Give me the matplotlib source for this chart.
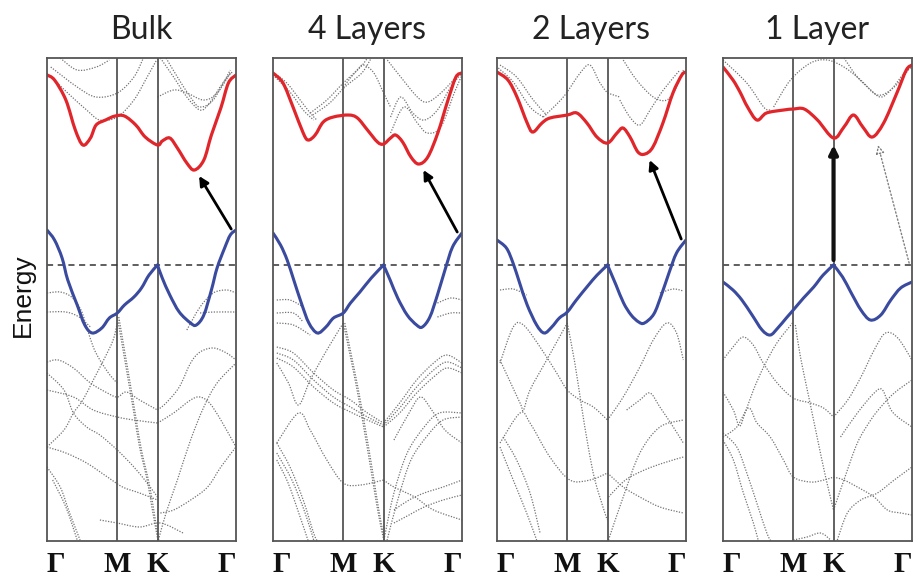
import matplotlib
matplotlib.use("Agg")
import matplotlib.pyplot as plt
from matplotlib.path import Path
from matplotlib.patches import PathPatch
from matplotlib.transforms import blended_transform_factory

# high-symmetry path, fractional distance along G-M-K-G
KPATH = [0.0, 0.372, 0.585, 1.0]
KLABELS = ["Γ", "M", "K", "Γ"]
TITLES = ["Bulk", "4 Layers", "2 Layers", "1 Layer"]
EMIN, EMAX = -2.76, 2.07

# ---- bulk -------------------------------------------------------------
BULK_CB = [(0.00, 1.90), (0.04, 1.85), (0.10, 1.65), (0.15, 1.35), (0.19, 1.20),
           (0.23, 1.27), (0.26, 1.40), (0.31, 1.45), (0.36, 1.49), (0.41, 1.49),
           (0.47, 1.40), (0.52, 1.28), (0.585, 1.20), (0.61, 1.24), (0.65, 1.27),
           (0.69, 1.17), (0.74, 1.02), (0.78, 0.95), (0.83, 1.05), (0.87, 1.30),
           (0.92, 1.57), (0.96, 1.82), (1.00, 1.90)]
BULK_VB = [(0.00, 0.35), (0.04, 0.25), (0.08, 0.07), (0.11, -0.15), (0.16, -0.40),
           (0.20, -0.60), (0.24, -0.68), (0.29, -0.63), (0.33, -0.53), (0.372, -0.48),
           (0.41, -0.40), (0.46, -0.32), (0.50, -0.23), (0.54, -0.10), (0.585, 0.00),
           (0.61, -0.13), (0.65, -0.30), (0.70, -0.47), (0.76, -0.58), (0.79, -0.60),
           (0.83, -0.50), (0.87, -0.25), (0.90, -0.03), (0.94, 0.17), (0.97, 0.30),
           (1.00, 0.35)]
BULK_OTHER = [
    [(0.00, 1.92), (0.11, 1.72), (0.21, 1.55), (0.28, 1.45), (0.372, 1.48), (0.46, 1.65), (0.53, 1.88), (0.58, 2.05)],
    [(0.02, 1.98), (0.16, 1.78), (0.26, 1.68), (0.372, 1.72), (0.46, 1.88), (0.51, 2.07)],
    [(0.07, 2.07), (0.16, 1.95), (0.26, 1.98), (0.33, 2.05)],
    [(0.60, 2.07), (0.67, 1.88), (0.74, 1.68), (0.81, 1.55), (0.86, 1.62), (0.93, 1.82), (0.98, 1.93)],
    [(0.63, 2.07), (0.70, 1.85), (0.77, 1.65), (0.81, 1.58), (0.88, 1.65), (0.97, 1.95)],
    [(0.585, 1.68), (0.67, 1.75), (0.74, 1.72), (0.83, 1.65), (0.90, 1.72), (0.97, 1.92)],
    [(0.00, -0.28), (0.07, -0.27), (0.13, -0.32), (0.18, -0.45), (0.21, -0.62), (0.245, -0.82), (0.28, -0.95), (0.333, -1.10), (0.372, -1.18)],
    [(0.74, -0.65), (0.81, -0.42), (0.88, -0.28), (0.95, -0.25), (1.00, -0.28)],
    [(0.00, -0.47), (0.10, -0.47), (0.17, -0.52), (0.23, -0.62)],
    [(0.81, -0.48), (0.88, -0.47), (1.00, -0.47)],
    [(0.00, -0.97), (0.06, -0.95), (0.14, -1.03), (0.23, -1.18), (0.32, -1.28), (0.372, -1.32), (0.42, -1.27), (0.49, -1.35),
     (0.585, -1.45), (0.63, -1.38), (0.70, -1.22), (0.76, -0.98), (0.81, -0.87), (0.88, -0.83), (0.95, -0.88), (1.00, -0.95)],
    [(0.00, -1.08), (0.09, -1.25), (0.14, -1.48), (0.21, -1.62), (0.28, -1.70), (0.372, -1.85), (0.46, -2.02), (0.53, -2.18), (0.585, -2.32)],
    [(0.00, -1.82), (0.09, -1.65), (0.14, -1.48), (0.19, -1.35), (0.245, -1.15), (0.30, -0.95), (0.35, -0.75), (0.372, -0.58)],
    [(0.372, -0.52), (0.40, -0.82), (0.43, -1.15), (0.46, -1.48), (0.49, -1.82), (0.53, -2.15), (0.555, -2.42), (0.58, -2.68), (0.59, -2.78)],
    [(0.38, -0.52), (0.41, -0.85), (0.44, -1.18), (0.47, -1.52), (0.50, -1.85), (0.54, -2.18), (0.565, -2.45), (0.59, -2.75)],
    [(0.59, -2.75), (0.63, -2.48), (0.69, -2.15), (0.76, -1.75), (0.83, -1.42), (0.90, -1.18), (1.00, -0.98)],
    [(0.585, -1.58), (0.67, -1.48), (0.76, -1.35), (0.81, -1.32), (0.86, -1.38), (0.92, -1.55), (1.00, -1.82)],
    [(0.00, -1.25), (0.14, -1.32), (0.245, -1.45), (0.372, -1.52), (0.46, -1.55), (0.585, -1.58)],
    [(0.00, -1.82), (0.10, -1.88), (0.21, -1.98), (0.32, -2.12), (0.40, -2.22), (0.49, -2.28), (0.585, -2.35)],
    [(0.00, -2.02), (0.07, -2.22), (0.12, -2.48), (0.175, -2.75)],
    [(0.03, -2.15), (0.10, -2.42), (0.16, -2.75)],
    [(0.60, -2.48), (0.67, -2.45), (0.76, -2.35), (0.85, -2.22), (0.92, -2.02), (1.00, -1.82)],
    [(0.28, -2.55), (0.372, -2.58), (0.49, -2.62), (0.60, -2.58), (0.72, -2.68)],
]

# ---- 4 layers ---------------------------------------------------------
L4_CB = [(0.00, 1.92), (0.053, 1.82), (0.106, 1.58), (0.16, 1.32), (0.186, 1.25),
         (0.223, 1.30), (0.266, 1.43), (0.319, 1.48), (0.40, 1.50), (0.447, 1.47),
         (0.50, 1.35), (0.553, 1.23), (0.585, 1.21), (0.622, 1.27), (0.649, 1.30),
         (0.686, 1.23), (0.73, 1.08), (0.771, 1.01), (0.819, 1.08), (0.872, 1.32),
         (0.926, 1.65), (0.968, 1.88), (1.00, 1.92)]
L4_VB = [(0.00, 0.32), (0.04, 0.20), (0.075, 0.05), (0.11, -0.15), (0.15, -0.38),
         (0.19, -0.58), (0.235, -0.68), (0.28, -0.62), (0.32, -0.53), (0.372, -0.48),
         (0.41, -0.38), (0.46, -0.27), (0.52, -0.13), (0.585, 0.00), (0.62, -0.15),
         (0.66, -0.33), (0.71, -0.50), (0.76, -0.60), (0.79, -0.62), (0.83, -0.52),
         (0.87, -0.30), (0.91, -0.05), (0.95, 0.18), (1.00, 0.32)]
L4_OTHER = [
    [(0.00, 1.93), (0.073, 1.82), (0.144, 1.65), (0.197, 1.52), (0.232, 1.45)],
    [(0.00, 1.90), (0.09, 1.73), (0.16, 1.55), (0.215, 1.45)],
    [(0.197, 1.52), (0.285, 1.65), (0.372, 1.82), (0.463, 1.98), (0.50, 2.07)],
    [(0.21, 1.50), (0.30, 1.62), (0.38, 1.78), (0.47, 1.92), (0.52, 2.07)],
    [(0.372, 1.78), (0.445, 1.95), (0.48, 2.00), (0.534, 1.92), (0.585, 1.72), (0.622, 1.58)],
    [(0.605, 2.05), (0.676, 1.88), (0.764, 1.68), (0.817, 1.63), (0.888, 1.72), (0.995, 1.93)],
    [(0.622, 1.32), (0.693, 1.58), (0.764, 1.42), (0.817, 1.32), (0.888, 1.38), (0.959, 1.72), (1.00, 1.90)],
    [(0.622, 1.48), (0.676, 1.68), (0.74, 1.52), (0.80, 1.45), (0.87, 1.55), (0.94, 1.78), (1.00, 1.92)],
    [(0.02, -0.35), (0.09, -0.35), (0.16, -0.42)],
    [(0.02, -0.48), (0.108, -0.48), (0.16, -0.57)],
    [(0.02, -0.58), (0.108, -0.60), (0.197, -0.70)],
    [(0.87, -0.38), (0.94, -0.33), (1.00, -0.35)],
    [(0.87, -0.52), (0.94, -0.48), (1.00, -0.48)],
    [(0.02, -0.82), (0.108, -0.88), (0.215, -1.08), (0.32, -1.25), (0.41, -1.35), (0.50, -1.48), (0.585, -1.58),
     (0.67, -1.38), (0.76, -1.15), (0.85, -0.98), (0.92, -0.90), (1.00, -0.98)],
    [(0.02, -0.88), (0.108, -0.95), (0.215, -1.15), (0.32, -1.32), (0.41, -1.42), (0.50, -1.52), (0.585, -1.60),
     (0.67, -1.43), (0.76, -1.22), (0.85, -1.05), (0.92, -0.97), (1.00, -1.03)],
    [(0.02, -0.93), (0.108, -1.02), (0.215, -1.22), (0.32, -1.38), (0.41, -1.47), (0.50, -1.55), (0.585, -1.62),
     (0.67, -1.48), (0.76, -1.28), (0.85, -1.12), (0.92, -1.03), (1.00, -1.08)],
    [(0.02, -0.98), (0.082, -1.18), (0.135, -1.40), (0.197, -1.15), (0.285, -0.85), (0.372, -0.58)],
    [(0.02, -1.78), (0.135, -1.48), (0.197, -1.65), (0.285, -1.95), (0.372, -2.18), (0.463, -2.20), (0.585, -2.15),
     (0.64, -2.22), (0.75, -2.32), (0.85, -2.45), (1.00, -2.55)],
    [(0.372, -0.58), (0.41, -0.92), (0.445, -1.25), (0.48, -1.62), (0.516, -2.02), (0.551, -2.42), (0.578, -2.68), (0.59, -2.78)],
    [(0.38, -0.58), (0.42, -0.95), (0.455, -1.28), (0.49, -1.65), (0.526, -2.05), (0.56, -2.45), (0.59, -2.75)],
    [(0.59, -2.72), (0.64, -2.28), (0.71, -1.88), (0.80, -1.62), (0.88, -1.48), (1.00, -1.48)],
    [(0.60, -2.78), (0.66, -2.35), (0.73, -1.95), (0.82, -1.70), (0.90, -1.55), (1.00, -1.52)],
    [(0.64, -1.75), (0.72, -1.48), (0.78, -1.32), (0.84, -1.45), (0.91, -1.65), (1.00, -1.78)],
    [(0.02, -1.78), (0.09, -2.02), (0.16, -2.35), (0.215, -2.68), (0.24, -2.78)],
    [(0.02, -1.88), (0.10, -2.15), (0.17, -2.48), (0.22, -2.78)],
    [(0.02, -1.95), (0.08, -2.18), (0.14, -2.50), (0.19, -2.78)],
    [(0.64, -2.45), (0.72, -2.35), (0.80, -2.28), (0.90, -2.22), (1.00, -2.15)],
    [(0.64, -2.58), (0.72, -2.50), (0.80, -2.42), (0.90, -2.35), (1.00, -2.30)],
]

# ---- 2 layers ---------------------------------------------------------
L2_CB = [(0.00, 1.93), (0.058, 1.85), (0.106, 1.68), (0.16, 1.42), (0.19, 1.33),
         (0.238, 1.42), (0.28, 1.47), (0.372, 1.50), (0.423, 1.52), (0.476, 1.42),
         (0.529, 1.28), (0.585, 1.22), (0.635, 1.32), (0.667, 1.37), (0.704, 1.28),
         (0.746, 1.13), (0.783, 1.11), (0.825, 1.18), (0.878, 1.42), (0.931, 1.72),
         (0.978, 1.90), (1.00, 1.93)]
L2_VB = [(0.00, 0.25), (0.05, 0.17), (0.085, 0.02), (0.12, -0.18), (0.16, -0.40),
         (0.21, -0.60), (0.25, -0.68), (0.29, -0.62), (0.33, -0.53), (0.372, -0.47),
         (0.42, -0.35), (0.48, -0.21), (0.53, -0.10), (0.585, 0.00), (0.63, -0.20),
         (0.67, -0.38), (0.71, -0.50), (0.75, -0.57), (0.78, -0.58), (0.83, -0.49),
         (0.87, -0.30), (0.91, -0.08), (0.95, 0.12), (1.00, 0.25)]
L2_OTHER = [
    [(0.007, 1.97), (0.086, 1.83), (0.175, 1.58), (0.245, 1.48)],
    [(0.016, 2.00), (0.104, 1.88), (0.192, 1.65), (0.263, 1.50)],
    [(0.245, 1.48), (0.351, 1.68), (0.44, 1.92), (0.492, 2.00), (0.545, 1.82), (0.585, 1.72), (0.65, 1.68)],
    [(0.668, 2.05), (0.739, 1.85), (0.827, 1.68), (0.898, 1.65), (0.95, 1.78), (0.986, 1.95)],
    [(0.65, 1.65), (0.703, 1.48), (0.756, 1.40), (0.81, 1.55), (0.88, 1.75), (0.968, 1.95)],
    [(0.016, -0.25), (0.086, -0.24), (0.157, -0.30)],
    [(0.862, -0.28), (0.933, -0.24), (0.986, -0.26)],
    [(0.016, -0.98), (0.086, -0.62), (0.14, -0.60), (0.228, -0.82), (0.316, -1.08), (0.372, -1.25), (0.44, -1.35),
     (0.51, -1.42), (0.585, -1.55), (0.668, -1.32), (0.756, -1.02), (0.827, -0.75), (0.898, -0.58), (0.95, -0.68), (0.986, -0.95)],
    [(0.016, -0.95), (0.122, -1.38), (0.14, -1.45), (0.175, -1.25), (0.263, -0.95), (0.372, -0.58)],
    [(0.016, -1.78), (0.122, -1.48), (0.175, -1.58), (0.28, -1.92), (0.386, -2.15), (0.492, -2.15), (0.585, -2.08),
     (0.668, -2.22), (0.756, -2.32), (0.862, -2.42), (0.986, -2.48)],
    [(0.372, -0.58), (0.412, -0.98), (0.448, -1.42), (0.483, -1.82), (0.518, -2.15), (0.571, -2.48), (0.585, -2.55)],
    [(0.59, -2.75), (0.668, -2.32), (0.756, -1.88), (0.862, -1.62), (0.986, -1.55)],
    [(0.686, -1.45), (0.756, -1.35), (0.81, -1.28), (0.862, -1.42), (0.933, -1.62), (0.986, -1.78)],
    [(0.016, -1.82), (0.086, -2.15), (0.157, -2.48), (0.21, -2.75)],
    [(0.033, -1.72), (0.104, -1.95), (0.175, -2.28), (0.228, -2.68)],
    [(0.59, -2.32), (0.68, -2.15), (0.78, -2.05), (0.88, -1.98), (0.986, -1.92)],
]

# ---- 1 layer ----------------------------------------------------------
L1_CB = [(0.00, 1.98), (0.053, 1.85), (0.09, 1.73), (0.13, 1.58), (0.18, 1.45),
         (0.23, 1.52), (0.32, 1.55), (0.372, 1.56), (0.43, 1.56), (0.50, 1.45),
         (0.585, 1.27), (0.64, 1.38), (0.69, 1.50), (0.74, 1.38), (0.79, 1.28),
         (0.85, 1.42), (0.92, 1.72), (0.97, 1.95), (1.00, 2.00)]
L1_VB = [(0.00, -0.17), (0.053, -0.25), (0.10, -0.35), (0.154, -0.50), (0.207, -0.65),
         (0.25, -0.70), (0.29, -0.63), (0.335, -0.53), (0.372, -0.45), (0.426, -0.33),
         (0.48, -0.22), (0.53, -0.10), (0.585, 0.00), (0.633, -0.12), (0.676, -0.27),
         (0.73, -0.45), (0.78, -0.55), (0.835, -0.50), (0.888, -0.35), (0.94, -0.23),
         (1.00, -0.17)]
L1_OTHER = [
    [(0.00, 2.05), (0.126, 1.82), (0.215, 1.58), (0.25, 1.55)],
    [(0.268, 1.58), (0.357, 1.85), (0.463, 2.02), (0.552, 2.05), (0.64, 1.98), (0.729, 1.85), (0.817, 1.70), (0.906, 1.78), (1.00, 2.00)],
    [(0.64, 2.07), (0.711, 1.88), (0.782, 1.75), (0.835, 1.68), (0.888, 1.75), (0.959, 1.92), (1.00, 1.98)],
    [(0.00, -0.95), (0.053, -0.82), (0.106, -0.72), (0.16, -0.80), (0.213, -0.98), (0.287, -1.18), (0.372, -1.33), (0.463, -1.38),
     (0.532, -1.43), (0.585, -1.52), (0.66, -1.35), (0.73, -1.12), (0.80, -0.85), (0.86, -0.68), (0.925, -0.73), (1.00, -0.95)],
    [(0.00, -1.27), (0.055, -1.45), (0.087, -1.61), (0.117, -1.48), (0.161, -1.25), (0.215, -1.02), (0.285, -0.78), (0.372, -0.57)],
    [(0.383, -0.60), (0.41, -0.92), (0.454, -1.32), (0.498, -1.72), (0.543, -2.12), (0.585, -2.45), (0.64, -2.15), (0.711, -1.78),
     (0.782, -1.55), (0.835, -1.42), (0.906, -1.28), (1.00, -1.15)],
    [(0.00, -1.72), (0.073, -1.62), (0.135, -1.43), (0.18, -1.58), (0.25, -1.72), (0.32, -1.95), (0.372, -2.12), (0.463, -2.17),
     (0.534, -2.15), (0.585, -2.12), (0.64, -2.15), (0.711, -2.22), (0.80, -2.32), (0.87, -2.45), (0.941, -2.48), (1.00, -2.50)],
    [(0.00, -1.68), (0.073, -1.82), (0.126, -2.08), (0.179, -2.38), (0.232, -2.68), (0.26, -2.78)],
    [(0.00, -1.75), (0.055, -1.95), (0.108, -2.28), (0.161, -2.58), (0.19, -2.78)],
    [(0.622, -1.72), (0.711, -1.48), (0.80, -1.28), (0.844, -1.25), (0.897, -1.47), (1.00, -1.62)],
    [(0.605, -2.75), (0.658, -2.48), (0.729, -2.35), (0.817, -2.28), (0.906, -2.15), (1.00, -2.02)],
    [(0.372, -2.75), (0.445, -2.72), (0.516, -2.68), (0.57, -2.75)],
]

PANELS = [(BULK_CB, BULK_VB, BULK_OTHER),
          (L4_CB, L4_VB, L4_OTHER),
          (L2_CB, L2_VB, L2_OTHER),
          (L1_CB, L1_VB, L1_OTHER)]

RED = "#e0262b"
BLUE = "#3a4a9e"
FRAME = "#555555"


def smooth_path(pts, corners=()):
    """Cubic Bezier path through every point (Catmull-Rom tangents);
    the curve is split at the k values in `corners` so cusps stay sharp."""
    pieces, cur = [], [pts[0]]
    for p in pts[1:]:
        cur.append(p)
        if p[0] in corners and p is not pts[-1]:
            pieces.append(cur)
            cur = [p]
    pieces.append(cur)

    verts, codes = [], []
    for piece in pieces:
        n = len(piece)
        verts.append(piece[0])
        codes.append(Path.MOVETO)
        for j in range(n - 1):
            p0 = piece[max(j - 1, 0)]
            p1, p2 = piece[j], piece[j + 1]
            p3 = piece[min(j + 2, n - 1)]
            c1 = (p1[0] + (p2[0] - p0[0]) / 6, p1[1] + (p2[1] - p0[1]) / 6)
            c2 = (p2[0] - (p3[0] - p1[0]) / 6, p2[1] - (p3[1] - p1[1]) / 6)
            verts += [c1, c2, p2]
            codes += [Path.CURVE4] * 3
    return Path(verts, codes)


def curve(ax, pts, corners=(), **kw):
    ax.add_patch(PathPatch(smooth_path(pts, corners), fill=False, **kw))


fig = plt.figure(figsize=(9.21, 5.78), dpi=100)
lefts = [0.051, 0.2964, 0.5396, 0.785]

for i, (cb, vb, other) in enumerate(PANELS):
    ax = fig.add_axes([lefts[i], 0.064, 0.2052, 0.8356])
    for band in other:
        curve(ax, band, corners=(KPATH[2],), ec="0.45", lw=0.9,
              ls=(0, (1, 1.2)), zorder=1)
    for k in KPATH[1:-1]:
        ax.axvline(k, color=FRAME, lw=1.3, zorder=2)
    ax.axhline(0, color="#333333", lw=1.1, ls=(0, (4, 3)), zorder=2)
    curve(ax, cb, ec=RED, lw=2.3, zorder=4, capstyle="round")
    curve(ax, vb, corners=(KPATH[2],), ec=BLUE, lw=2.2, zorder=4, capstyle="round")
    ax.set_xlim(0, 1)
    ax.set_ylim(EMIN, EMAX)
    ax.set_xticks([])
    ax.set_yticks([])
    for s in ax.spines.values():
        s.set_color(FRAME)
        s.set_linewidth(1.3)
        s.set_zorder(6)
    ax.set_title(TITLES[i], fontsize=23, family="Lato", color="#222222", pad=14)

    tr = blended_transform_factory(ax.transData, ax.transAxes)
    aligns = ["left", "center", "center", "right"]
    for k, lab, ha in zip(KPATH, KLABELS, aligns):
        ax.text(k, -0.02, lab, transform=tr, ha=ha, va="top", fontsize=21,
                family="Liberation Serif", weight="bold", color="#111111")

    # conduction-band minimum on the K-Gamma leg
    cb_min = min((p for p in cb if p[0] > KPATH[2] + 0.02), key=lambda p: p[1])
    if i < 3:
        # indirect gap: Gamma valence top -> conduction minimum between K and Gamma
        tail = (vb[-1][0] - 0.025, vb[-1][1] + 0.01)
        head = (cb_min[0] + 0.025, cb_min[1] - 0.06)
        ax.annotate("", xy=head, xytext=tail,
                    arrowprops=dict(arrowstyle="-|>,head_length=0.55,head_width=0.28",
                                    color="k", lw=2.0, shrinkA=0, shrinkB=0), zorder=5)
    else:
        # direct gap at K, plus the weaker indirect one
        k_vbm = max(vb, key=lambda p: p[1])
        k_cbm = [p for p in cb if p[0] == KPATH[2]][0]
        ax.annotate("", xy=(k_vbm[0], k_cbm[1] - 0.07), xytext=(k_vbm[0], k_vbm[1] + 0.05),
                    arrowprops=dict(arrowstyle="-|>,head_length=0.5,head_width=0.25",
                                    color="#111111", lw=3.0, shrinkA=0, shrinkB=0), zorder=5)
        ax.annotate("", xy=(cb_min[0] + 0.03, cb_min[1] - 0.08), xytext=(0.985, 0.02),
                    arrowprops=dict(arrowstyle="-|>,head_length=0.5,head_width=0.25",
                                    ec="0.5", fc="white", lw=1.0, ls=":",
                                    shrinkA=0, shrinkB=0), zorder=5)

fig.text(0.025, 0.49, "Energy", rotation=90, ha="center", va="center",
         fontsize=19, family="Liberation Sans", color="#111111")

fig.savefig("out.png", dpi=100)
